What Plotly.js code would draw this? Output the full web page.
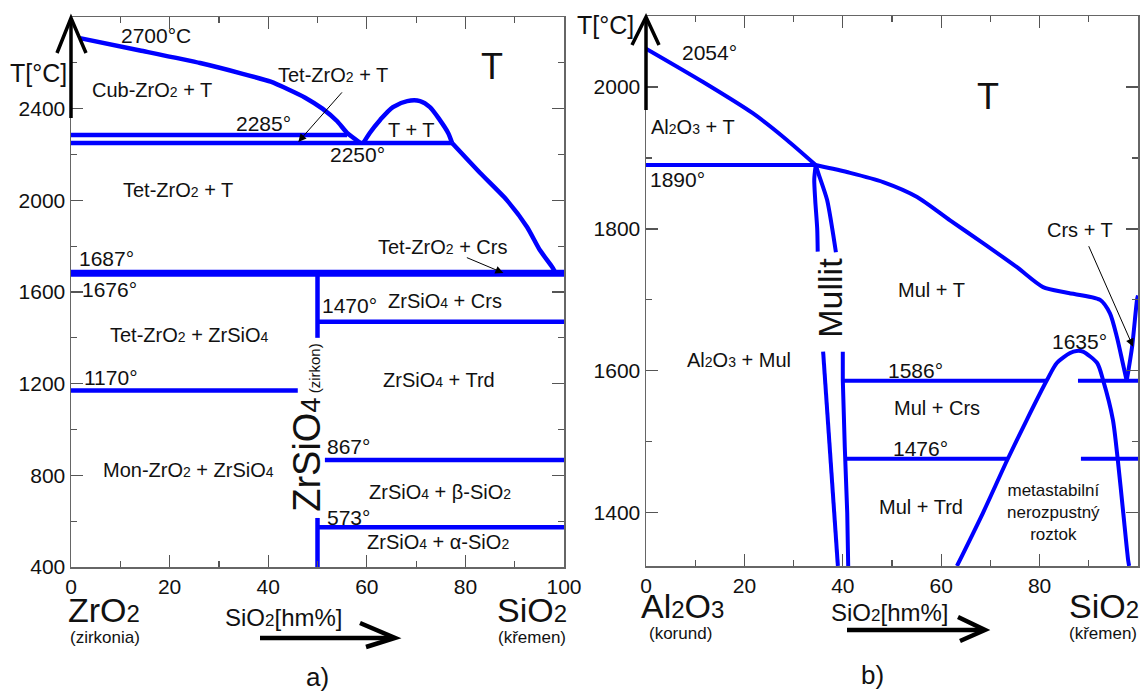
<!DOCTYPE html>
<html>
<head>
<meta charset="utf-8">
<script src="https://cdn.plot.ly/plotly-3.0.1.min.js"></script>
<style>html,body{margin:0;padding:0;background:#fff;}#chart{width:1142px;height:692px;}</style>
</head>
<body>
<div id="chart"></div>
<script>
// ---------- Data: a) ZrO2 – SiO2 ----------
const a_liqZr_x = [1.8, 14, 26.2, 35, 40.5, 44, 47.5, 51, 54, 56.0, 58.7];
const a_liqZr_y = [2708, 2654, 2599, 2551, 2518, 2485, 2448, 2400, 2345, 2294, 2250];
const a_gap_x = [59.3, 60.6, 62.7, 65.3, 68.2, 70.8, 72.8, 74.8, 76.5, 77.3];
const a_gap_y = [2250, 2294, 2351, 2407, 2433, 2433, 2407, 2351, 2294, 2250];
const a_liqSi_x = [77.3, 83.0, 88.4, 92.5, 95.1, 97.6, 98.2];
const a_liqSi_y = [2250, 2119, 2001, 1884, 1783, 1709, 1687];
const a_iso_T  = [2285, 2250, 1687, 1676, 1470, 1170, 867, 573];
const a_iso_x0 = [0, 0, 0, 0, 50, 0, 51.5, 50];
const a_iso_x1 = [56, 77.3, 100, 100, 100, 46, 100, 100];
const a_zircon_x = [50, 50];
const a_zircon_upper_y = [1687, 1400];
const a_zircon_lower_y = [614, 400];
const a_xticks = [0, 20, 40, 60, 80, 100];
const a_yticks = [400, 800, 1200, 1600, 2000, 2400];

// ---------- Data: b) Al2O3 – SiO2 ----------
const b_liqAl_x = [0, 11.6, 21.7, 28.7, 34.5];
const b_liqAl_y = [2054, 2007, 1963, 1925, 1890];
const b_liqMul_x = [34.5, 41.5, 48.2, 55.1, 61.8, 68.5, 75.4, 80.7, 85.6, 92.3, 94.3, 95.7, 96.9, 97.7];
const b_liqMul_y = [1890, 1879, 1866, 1845, 1812, 1780, 1746, 1718, 1710, 1700, 1681, 1648, 1611, 1586];
const b_liqCrs_x = [97.7, 98.8, 99.8, 100];
const b_liqCrs_y = [1586, 1634, 1700, 1706];
const b_mulL_up_x = [34.5, 34.2, 34.4, 34.8, 34.9];
const b_mulL_up_y = [1890, 1870, 1840, 1800, 1768];
const b_mulR_up_x = [34.5, 35.0, 36.8, 38.0, 38.6];
const b_mulR_up_y = [1890, 1879, 1841, 1794, 1767];
const b_mulL_lo_x = [36.0, 36.4, 37.4, 38.4, 39.0];
const b_mulL_lo_y = [1627, 1587, 1493, 1400, 1325];
const b_mulR_lo_x = [40.0, 40.0, 40.4, 40.9, 41.1];
const b_mulR_lo_y = [1627, 1587, 1493, 1400, 1325];
const b_dome_x = [63.2, 68.5, 73.4, 77.4, 81.5, 83.5, 86.2, 87.5, 88.8, 91.7, 92.9, 94.9, 95.9, 97.0, 98.0, 98.2];
const b_dome_y = [1325, 1400, 1474, 1531, 1587, 1611, 1625, 1628, 1627, 1611, 1587, 1531, 1474, 1400, 1333, 1325];
const b_iso_T  = [1890, 1586, 1586, 1476, 1476];
const b_iso_x0 = [0, 40.0, 87.8, 40.8, 88.4];
const b_iso_x1 = [34.5, 81.5, 100, 73.4, 100];
const b_xticks = [0, 20, 40, 60, 80, 100];
const b_yticks = [1400, 1600, 1800, 2000];

// ---------- Build ----------
const W = 1142, H = 692;
const BLUE = '#0000ff';
const FONT = 'Liberation Sans, Arial, sans-serif';
const traces = [];
function line(x, y, ax, w, smooth) {
  traces.push({x: x, y: y, xaxis: ax === 2 ? 'x2' : 'x', yaxis: ax === 2 ? 'y2' : 'y',
    mode: 'lines', hoverinfo: 'skip',
    line: {color: BLUE, width: w, shape: smooth ? 'spline' : 'linear', smoothing: smooth || 0}});
}
// a)
line(a_liqZr_x, a_liqZr_y, 1, 4.5, 0.5);
line(a_gap_x, a_gap_y, 1, 4.5, 0.8);
line(a_liqSi_x, a_liqSi_y, 1, 4.5, 0.6);
a_iso_T.forEach((t, i) => line([a_iso_x0[i], a_iso_x1[i]], [t, t], 1, 4.5, 0));
line(a_zircon_x, a_zircon_upper_y, 1, 4.5, 0);
line(a_zircon_x, a_zircon_lower_y, 1, 4.5, 0);
// b)
line(b_liqAl_x, b_liqAl_y, 2, 4, 0.7);
line(b_liqMul_x, b_liqMul_y, 2, 4, 0.7);
line(b_liqCrs_x, b_liqCrs_y, 2, 4, 0.7);
line(b_mulL_up_x, b_mulL_up_y, 2, 4, 0.7);
line(b_mulR_up_x, b_mulR_up_y, 2, 4, 0.7);
line(b_mulL_lo_x, b_mulL_lo_y, 2, 4, 0);
line(b_mulR_lo_x, b_mulR_lo_y, 2, 4, 0);
line(b_dome_x, b_dome_y, 2, 4, 0.7);
b_iso_T.forEach((t, i) => line([b_iso_x0[i], b_iso_x1[i]], [t, t], 2, 4, 0));

// axes
function xax(domain, ticks) {
  return {domain: domain, range: [0, 100], tickmode: 'array', tickvals: ticks,
    ticks: 'inside', ticklen: 12, tickwidth: 1.2, tickcolor: '#555',
    minor: {tick0: 0, dtick: 10, ticks: 'inside', ticklen: 6, tickwidth: 1.2, tickcolor: '#555'},
    showline: true, linecolor: '#666', linewidth: 1.5, mirror: 'ticks',
    showgrid: false, zeroline: false, fixedrange: true,
    tickfont: {size: 21, color: '#111', family: FONT}};
}
function yax(domain, range, ticks, mt0, mdt) {
  return {domain: domain, range: range, tickmode: 'array', tickvals: ticks,
    ticks: 'inside', ticklen: 12, tickwidth: 1.2, tickcolor: '#555',
    minor: {tick0: mt0, dtick: mdt, ticks: 'inside', ticklen: 6, tickwidth: 1.2, tickcolor: '#555'},
    showline: true, linecolor: '#666', linewidth: 1.5, mirror: 'ticks',
    showgrid: false, zeroline: false, fixedrange: true,
    tickfont: {size: 21, color: '#111', family: FONT}};
}

// small baseline subscript (as in the reference)
function sb(n, size) { return '<span style="font-size:' + Math.round(size * 0.7) + 'px">' + n + '</span>'; }

const ann = [];
function txt(x, y, ax, s, size, extra) {
  const o = {x: x, y: y, xref: ax === 2 ? 'x2' : 'x', yref: ax === 2 ? 'y2' : 'y',
    text: s, showarrow: false, font: {size: size, color: '#111', family: FONT},
    xanchor: 'center', yanchor: 'middle'};
  ann.push(Object.assign(o, extra || {}));
}
function ptxt(px, py, s, size, extra) {
  const o = {x: px / W, y: 1 - py / H, xref: 'paper', yref: 'paper',
    text: s, showarrow: false, font: {size: size, color: '#111', family: FONT},
    xanchor: 'center', yanchor: 'middle'};
  ann.push(Object.assign(o, extra || {}));
}
function arr(x, y, ax, dx, dy) {
  ann.push({x: x, y: y, xref: ax === 2 ? 'x2' : 'x', yref: ax === 2 ? 'y2' : 'y',
    text: '', showarrow: true, ax: dx, ay: dy, arrowhead: 2, arrowsize: 1.6,
    arrowwidth: 1, arrowcolor: '#000', standoff: 0});
}
// a) labels
txt(17.2, 2721, 1, '2700°C', 21);
txt(16.4, 2481, 1, 'Cub-ZrO' + sb(2, 20) + ' + T', 20);
txt(39.1, 2337, 1, '2285°', 21);
txt(53.1, 2547, 1, 'Tet-ZrO' + sb(2, 20) + ' + T', 20);
txt(58.2, 2198, 1, '2250°', 21);
txt(69.0, 2307, 1, 'T + T', 20);
txt(85.4, 2582, 1, 'T', 36);
txt(21.7, 2045, 1, 'Tet-ZrO' + sb(2, 20) + ' + T', 20);
txt(75.3, 1796, 1, 'Tet-ZrO' + sb(2, 20) + ' + Crs', 20);
txt(7.1, 1748, 1, '1687°', 21);
txt(7.9, 1609, 1, '1676°', 21);
txt(24.1, 1412, 1, 'Tet-ZrO' + sb(2, 20) + ' + ZrSiO' + sb(4, 20), 20);
txt(8.1, 1225, 1, '1170°', 21);
txt(23.9, 823, 1, 'Mon-ZrO' + sb(2, 20) + ' + ZrSiO' + sb(4, 20), 20);
txt(56.4, 1543, 1, '1470°', 21);
txt(75.9, 1561, 1, 'ZrSiO' + sb(4, 20) + ' + Crs', 20);
txt(74.6, 1216, 1, 'ZrSiO' + sb(4, 20) + ' + Trd', 20);
txt(56.2, 924, 1, '867°', 21);
txt(74.8, 727, 1, 'ZrSiO' + sb(4, 20) + ' + β-SiO' + sb(2, 20), 20);
txt(56.2, 618, 1, '573°', 21);
txt(74.4, 509, 1, 'ZrSiO' + sb(4, 20) + ' + α-SiO' + sb(2, 20), 20);
txt(47.8, 1006, 1, 'ZrSiO' + sb(4, 38) + '<span style="font-size:15px"> (zirkon)</span>', 38, {textangle: -90});
arr(46.1, 2255, 1, 45, -51);
arr(87.7, 1683, 1, -38, -16);
// b) labels
txt(13.0, 2048, 2, '2054°', 21);
txt(9.6, 1944, 2, 'Al' + sb(2, 20) + 'O' + sb(3, 20) + ' + T', 20);
txt(6.3, 1869, 2, '1890°', 21);
txt(69.5, 1986, 2, 'T', 36);
txt(37.4, 1703, 2, 'Mullit', 34, {textangle: -90});
txt(58.1, 1714, 2, 'Mul + T', 20);
txt(88.2, 1798, 2, 'Crs + T', 20);
txt(18.9, 1615, 2, 'Al' + sb(2, 20) + 'O' + sb(3, 20) + ' + Mul', 20);
txt(88.2, 1641, 2, '1635°', 21);
txt(54.7, 1601, 2, '1586°', 21);
txt(59.1, 1548, 2, 'Mul + Crs', 20);
txt(55.7, 1491, 2, '1476°', 21);
txt(55.9, 1408, 2, 'Mul + Trd', 20);
txt(82.9, 1401, 2, 'metastabilní<br>nerozpustný<br>roztok', 17);
arr(99.0, 1634, 2, -45, -102);
// outside labels
ptxt(38, 73, 'T[°C]', 25);
ptxt(605, 25, 'T[°C]', 25);
ptxt(104, 610, 'ZrO' + sb(2, 34), 34);
ptxt(105, 637, '(zirkonia)', 17);
ptxt(284, 617, 'SiO' + sb(2, 24) + '[hm%]', 24);
ptxt(532, 610, 'SiO' + sb(2, 34), 34);
ptxt(532, 637, '(křemen)', 17);
ptxt(317, 677, 'a)', 26);
ptxt(682, 606, 'Al' + sb(2, 34) + 'O' + sb(3, 34), 34);
ptxt(680, 633, '(korund)', 17);
ptxt(890, 612, 'SiO' + sb(2, 24) + '[hm%]', 24);
ptxt(1104, 606, 'SiO' + sb(2, 34), 34);
ptxt(1103, 633, '(křemen)', 17);
ptxt(872, 675, 'b)', 26);

// decorative arrows (pixel -> paper)
const shapes = [];
function seg(x0, y0, x1, y1, w) {
  shapes.push({type: 'line', xref: 'paper', yref: 'paper', x0: x0 / W, y0: 1 - y0 / H, x1: x1 / W, y1: 1 - y1 / H,
    line: {color: '#000', width: w}, layer: 'above'});
}
function chev(ax, ay, tx, ty, bx, by, w) {
  const p = (x, y) => (x / W).toFixed(5) + ',' + (1 - y / H).toFixed(5);
  shapes.push({type: 'path', xref: 'paper', yref: 'paper',
    path: 'M' + p(ax, ay) + ' L' + p(tx, ty) + ' L' + p(bx, by),
    line: {color: '#000', width: w}, layer: 'above'});
}
seg(71, 118, 71, 19, 3.5); chev(57, 53, 71, 18, 86, 53, 3.5);
seg(646, 110, 646, 18, 3.5); chev(632, 45, 646, 17, 659, 45, 3.5);
seg(260, 638, 392, 638, 4.5); chev(360, 623, 395, 638, 366, 647, 4.5);
seg(847, 630, 982, 630, 4.5); chev(958, 617, 985, 630, 960, 641, 4.5);

const layout = {
  width: W, height: H, margin: {l: 0, r: 0, t: 0, b: 0},
  paper_bgcolor: '#fff', plot_bgcolor: '#fff', showlegend: false,
  font: {family: FONT, color: '#111'},
  xaxis: Object.assign(xax([71 / W, 564 / W], a_xticks), {anchor: 'y'}),
  yaxis: Object.assign(yax([1 - 567 / H, 1 - 17 / H], [400, 2800], a_yticks, 400, 200), {anchor: 'x'}),
  xaxis2: Object.assign(xax([646 / W, 1138 / W], b_xticks), {anchor: 'y2'}),
  yaxis2: Object.assign(yax([1 - 566 / H, 1 - 16 / H], [1325, 2100], b_yticks, 1400, 100), {anchor: 'x2'}),
  annotations: ann, shapes: shapes
};
Plotly.newPlot('chart', traces, layout, {staticPlot: true, displayModeBar: false});
</script>
</body>
</html>
